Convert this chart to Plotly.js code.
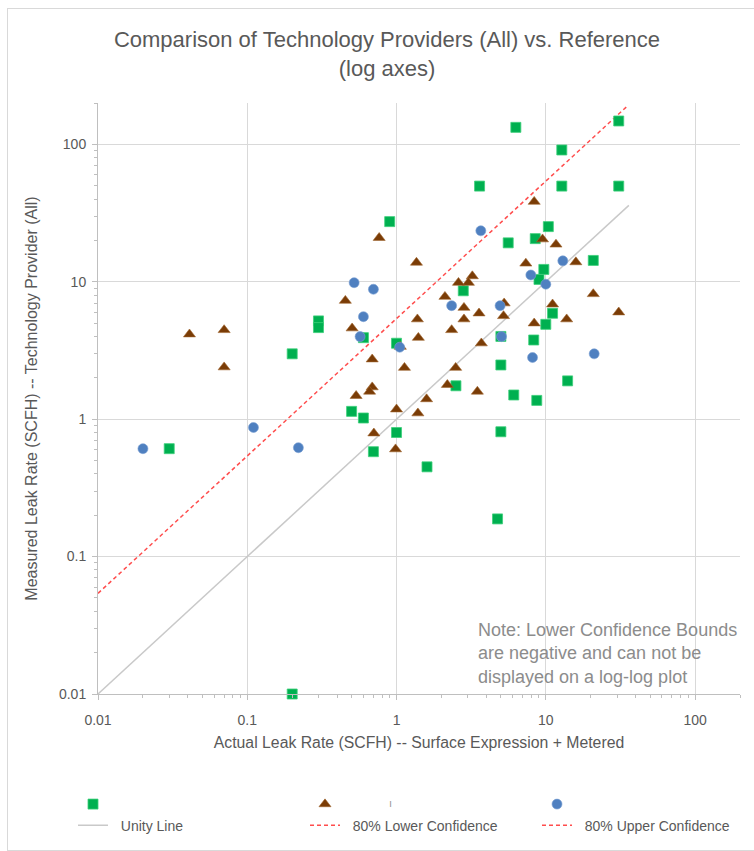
<!DOCTYPE html>
<html>
<head>
<meta charset="utf-8">
<script src="https://cdn.plot.ly/plotly-3.0.1.min.js"></script>
<style>
html,body{margin:0;padding:0;background:#fff;}
#wrap{position:relative;width:754px;height:851px;}
#frame{position:absolute;left:7px;top:8px;width:760px;height:841px;border-left:1px solid #d9d9d9;border-top:1px solid #d9d9d9;border-bottom:1px solid #d9d9d9;pointer-events:none;}
#chart{position:absolute;left:0;top:0;width:754px;height:851px;}
</style>
</head>
<body>
<div id="wrap"><div id="chart"></div><div id="frame"></div></div>
<script>
// ---- data ----
const greenX = [6.3, 30.8, 12.8, 3.6, 12.8, 30.8, 0.9, 10.4, 5.6, 8.5, 20.8, 9.7, 9.0, 2.8, 11.1, 10.0, 5.0, 8.3, 5.0, 2.5, 14.0, 6.1, 8.7, 5.0, 4.75, 1.6, 1.0, 0.5, 0.6, 0.7, 0.03, 0.2, 0.2, 0.3, 0.3, 0.6, 1.0];
const greenY = [133, 148, 91, 49.7, 49.7, 49.7, 27.4, 25.2, 19.2, 20.6, 14.3, 12.3, 10.4, 8.6, 5.9, 4.9, 4.0, 3.77, 2.48, 1.75, 1.9, 1.5, 1.37, 0.81, 0.188, 0.45, 0.8, 1.14, 1.02, 0.58, 0.61, 0.01, 2.99, 5.19, 4.64, 3.92, 3.57];

const brownX = [0.041, 0.07, 0.07, 0.765, 1.36, 0.454, 1.38, 0.504, 1.40, 1.06, 0.687, 1.13, 0.687, 0.66, 0.536, 1.0, 1.39, 0.705, 0.985, 2.34, 2.83, 3.57, 3.7, 2.49, 2.19, 3.48, 1.59, 8.36, 9.51, 11.7, 7.35, 15.9, 3.22, 3.03, 2.6, 2.11, 2.83, 5.26, 5.21, 11.1, 13.8, 8.36, 20.8, 30.8];
const brownY = [4.15, 4.46, 2.39, 20.9, 13.8, 7.29, 5.34, 4.59, 3.92, 3.37, 2.73, 2.37, 1.71, 1.59, 1.48, 1.18, 1.105, 0.79, 0.605, 4.46, 5.34, 5.9, 3.57, 2.37, 1.78, 1.59, 1.40, 38.3, 20.4, 18.7, 13.6, 13.9, 11.0, 9.85, 9.85, 7.79, 6.48, 6.98, 5.64, 6.86, 5.34, 4.99, 8.15, 6.0];

const blueX = [0.02, 0.11, 0.22, 0.52, 0.70, 0.60, 0.57, 1.05, 3.67, 13.0, 7.94, 10.0, 2.34, 4.94, 5.05, 8.15, 21.1];
const blueY = [0.61, 0.87, 0.62, 9.85, 8.82, 5.57, 3.99, 3.34, 23.5, 14.2, 11.2, 9.6, 6.7, 6.7, 3.99, 2.81, 2.99];

const unityX = [0.01, 36];
const unityY = [0.01, 36];
const upperX = [0.01, 35];
const upperY = [0.054, 189];
const lowerX = [null];
const lowerY = [null];

const tickVals = [0.01, 0.1, 1, 10, 100];
const tickText = ['0.01', '0.1', '1', '10', '100'];
const axisMax = 200;

const titleText = 'Comparison of Technology Providers (All) vs. Reference<br>(log axes)';
const xTitle = 'Actual Leak Rate (SCFH) -- Surface Expression + Metered';
const yTitle = 'Measured Leak Rate (SCFH) -- Technology Provider (All)';
const noteText = 'Note: Lower Confidence Bounds<br>are negative and can not be<br>displayed on a log-log plot';
const seriesNames = ['', '', ''];
const lineNames = ['Unity Line', '80% Lower Confidence', '80% Upper Confidence'];

// ---- chart ----
const FONT = '"Liberation Sans", Arial, sans-serif';
const GREY = '#595959';
const PAD = '\u00a0\u00a0';
const RED_DASH = '4px,3px';

const traces = [
  {x: unityX, y: unityY, mode: 'lines', name: PAD + lineNames[0], legend: 'legend', legendgroup: 'a2', legendrank: 2,
   line: {color: '#c9c9c9', width: 1.5}},
  {x: lowerX, y: lowerY, mode: 'lines', name: PAD + lineNames[1], legend: 'legend2', legendgroup: 'b2', legendrank: 2,
   line: {color: '#ff4d4d', width: 1.5, dash: RED_DASH}},
  {x: upperX, y: upperY, mode: 'lines', name: PAD + lineNames[2], legend: 'legend3', legendgroup: 'c2', legendrank: 2,
   line: {color: '#ff4d4d', width: 1.5, dash: RED_DASH}},
  {x: greenX, y: greenY, mode: 'markers', name: seriesNames[0], legend: 'legend', legendgroup: 'a1', legendrank: 1,
   cliponaxis: false,
   marker: {symbol: 'square', size: 10, color: '#00b050', line: {color: '#3ccf7a', width: 0.8}}},
  {x: brownX, y: brownY, mode: 'markers', name: seriesNames[1], legend: 'legend2', legendgroup: 'b1', legendrank: 1,
   marker: {symbol: 'triangle-up', size: 10.5, color: '#7a3c06', line: {color: '#a0642e', width: 0.6}}},
  {x: blueX, y: blueY, mode: 'markers', name: seriesNames[2], legend: 'legend3', legendgroup: 'c1', legendrank: 1,
   marker: {symbol: 'circle', size: 10, color: '#4f80c0', line: {color: '#7aa0d4', width: 0.6}}}
];

const axisCommon = {
  type: 'log',
  range: [-2, Math.log10(axisMax)],
  tickmode: 'array',
  tickvals: tickVals,
  ticktext: tickText,
  showgrid: true,
  gridcolor: '#d9d9d9',
  gridwidth: 1,
  zeroline: false,
  showline: true,
  linecolor: '#bfbfbf',
  linewidth: 1,
  ticks: 'outside',
  ticklen: 5,
  tickcolor: '#bfbfbf',
  minor: {ticks: 'outside', ticklen: 3, tickcolor: '#bfbfbf', dtick: 'D1', showgrid: false},
  tickfont: {family: FONT, size: 14, color: GREY},
  automargin: false,
  fixedrange: true
};

function legendAt(px) {
  return {orientation: 'v', x: (px - 98) / 642, xanchor: 'left',
          y: 1 - 788.5 / 851, yref: 'container', yanchor: 'top',
          tracegroupgap: 0, font: {family: FONT, size: 14, color: GREY},
          bgcolor: 'rgba(0,0,0,0)', itemclick: false, itemdoubleclick: false};
}

const layout = {
  width: 754,
  height: 851,
  margin: {l: 98, r: 14, t: 103, b: 157, autoexpand: false},
  paper_bgcolor: 'rgba(0,0,0,0)',
  plot_bgcolor: 'rgba(0,0,0,0)',
  font: {family: FONT, color: GREY},
  title: {text: titleText, x: 387 / 754, xref: 'container', xanchor: 'center',
          y: 1 - 47 / 851, yref: 'container', yanchor: 'top',
          font: {family: FONT, size: 22, color: GREY}},
  xaxis: Object.assign({}, axisCommon, {
    ticklabelstandoff: 8,
    title: {text: xTitle, font: {family: FONT, size: 15.8, color: GREY}, standoff: 10}
  }),
  yaxis: Object.assign({}, axisCommon, {
    ticklabelstandoff: 3,
    title: {text: yTitle, font: {family: FONT, size: 16, color: GREY}, standoff: 17}
  }),
  showlegend: true,
  legend: legendAt(73),
  legend2: legendAt(305),
  legend3: legendAt(537),
  annotations: [
    {text: noteText, xref: 'paper', yref: 'paper', x: (476 - 98) / 642, y: (694 - 617.5) / 591,
     xanchor: 'left', yanchor: 'top', align: 'left', showarrow: false,
     font: {family: FONT, size: 18, color: '#8c8c8c'}},
    {text: 'ı', xref: 'paper', yref: 'paper', x: (390 - 98) / 642, y: (694 - 803) / 591,
     xanchor: 'center', yanchor: 'middle', showarrow: false,
     font: {family: FONT, size: 11, color: '#9a9a9a'}}
  ]
};

Plotly.newPlot('chart', traces, layout, {displayModeBar: false, staticPlot: true});
</script>
</body>
</html>
